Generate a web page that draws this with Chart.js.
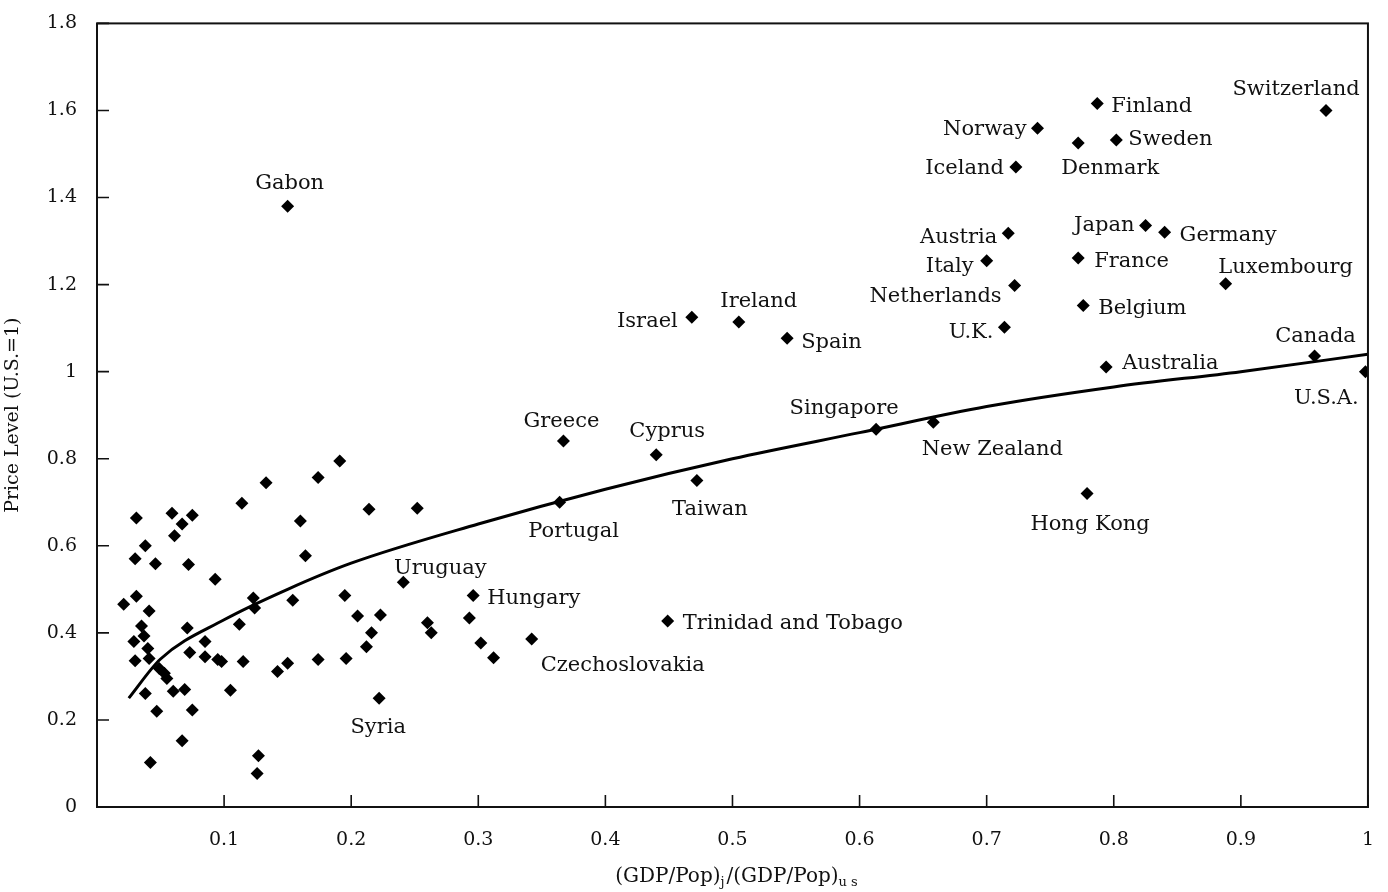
<!DOCTYPE html>
<html>
<head>
<meta charset="utf-8">
<script src="https://cdn.jsdelivr.net/npm/chart.js@4"></script>
<style>
  html, body { margin: 0; padding: 0; background: #fff; }
  #wrap { width: 1388px; height: 892px; }
</style>
</head>
<body>
<div id="wrap"><canvas id="c"></canvas></div>
<script>
// labelled countries: name, x, y
const countryNames = ['Switzerland','Finland','Norway','Denmark','Sweden','Iceland','Japan','Germany','Austria','Italy',
  'France','Netherlands','Luxembourg','Belgium','Israel','Ireland','Spain','U.K.','Canada','Australia','U.S.A.',
  'Gabon','Greece','Cyprus','Singapore','New Zealand','Portugal','Taiwan','Hong Kong','Uruguay','Hungary',
  'Trinidad and Tobago','Czechoslovakia','Syria'];
const countryX = [0.967,0.787,0.740,0.772,0.802,0.723,0.825,0.840,0.717,0.700,
  0.772,0.722,0.888,0.776,0.468,0.505,0.543,0.714,0.958,0.794,0.998,
  0.150,0.367,0.440,0.613,0.658,0.364,0.472,0.779,0.241,0.296,
  0.449,0.342,0.222];
const countryY = [1.600,1.616,1.559,1.525,1.532,1.470,1.336,1.320,1.318,1.255,
  1.261,1.198,1.202,1.152,1.125,1.114,1.077,1.102,1.036,1.011,1.000,
  1.380,0.841,0.809,0.868,0.884,0.700,0.750,0.720,0.516,0.486,
  0.427,0.386,0.250];
// label placement relative to the marker: dx, dy (px), align
const labelPlace = [[-30,-21,'center'],[14,3,'left'],[-11,1,'right'],[32,25,'center'],[12,-1,'left'],[-12,1,'right'],
  [-11,0,'right'],[15,3,'left'],[-11,4,'right'],[-13,6,'right'],[16,4,'left'],[-13,11,'right'],[60,-16,'center'],
  [15,3,'left'],[-14,4,'right'],[20,-20,'center'],[14,4,'left'],[-11,5,'right'],[1,-19,'center'],[16,-3,'left'],
  [-39,27,'center'],[2,-23,'center'],[-2,-19,'center'],[11,-23,'center'],[-32,-21,'center'],[59,27,'center'],
  [14,29,'center'],[13,29,'center'],[3,31,'center'],[37,-14,'center'],[14,3,'left'],[15,2,'left'],[91,27,'center'],[-1,29,'center']];

// unlabelled countries
const otherX = [0.021,0.031,0.030,0.038,0.046,0.031,0.035,0.029,0.037,0.041,0.040,0.030,0.041,0.038,0.042,0.047,0.049,
  0.053,0.055,0.059,0.061,0.067,0.075,0.072,0.071,0.073,0.060,0.069,0.067,0.075,0.085,0.085,0.095,0.098,0.093,
  0.105,0.114,0.112,0.115,0.123,0.124,0.133,0.127,0.126,0.142,0.150,0.154,0.160,0.164,0.174,0.174,0.191,0.195,
  0.196,0.205,0.214,0.212,0.216,0.223,0.252,0.260,0.263,0.293,0.302,0.312];
const otherY = [0.466,0.664,0.570,0.600,0.559,0.484,0.416,0.380,0.393,0.450,0.364,0.336,0.341,0.261,0.102,0.220,0.318,
  0.307,0.295,0.675,0.623,0.650,0.670,0.557,0.411,0.355,0.266,0.270,0.152,0.223,0.380,0.345,0.339,0.334,0.523,
  0.268,0.698,0.420,0.334,0.480,0.457,0.745,0.118,0.077,0.311,0.330,0.475,0.657,0.577,0.757,0.339,0.795,0.486,
  0.341,0.439,0.684,0.368,0.400,0.441,0.686,0.423,0.400,0.434,0.377,0.343];

// fitted curve
const curveX = [0.025,0.05,0.1,0.15,0.2,0.3,0.4,0.5,0.6,0.7,0.8,0.9,1.0];
const curveY = [0.25,0.34,0.43,0.50,0.56,0.65,0.73,0.80,0.86,0.92,0.965,1.00,1.04];

const xTicks = [0.1,0.2,0.3,0.4,0.5,0.6,0.7,0.8,0.9,1];
const yTicks = [0,0.2,0.4,0.6,0.8,1,1.2,1.4,1.6,1.8];

const serif = '"DejaVu Serif", "Liberation Serif", serif';

const toXY = (xs, ys) => xs.map((x, i) => ({x, y: ys[i]}));

const framePlugin = {
  id: 'frame',
  afterDraw(chart) {
    const {ctx, chartArea: a, scales: {x, y}} = chart;
    ctx.save();
    ctx.strokeStyle = '#111';
    ctx.lineWidth = 2;
    ctx.strokeRect(a.left, a.top, a.right - a.left, a.bottom - a.top);
    ctx.lineWidth = 1.6;
    ctx.beginPath();
    xTicks.forEach(v => { const p = x.getPixelForValue(v); ctx.moveTo(p, a.bottom); ctx.lineTo(p, a.bottom - 12); });
    yTicks.forEach(v => { const p = y.getPixelForValue(v); ctx.moveTo(a.left, p); ctx.lineTo(a.left + 12, p); });
    ctx.stroke();

    // country labels
    ctx.fillStyle = '#111';
    ctx.font = '21px ' + serif;
    ctx.textBaseline = 'middle';
    countryNames.forEach((n, i) => {
      const [dx, dy, al] = labelPlace[i];
      ctx.textAlign = al;
      ctx.fillText(n, x.getPixelForValue(countryX[i]) + dx, y.getPixelForValue(countryY[i]) + dy);
    });

    // x title with subscripts
    ctx.textAlign = 'left';
    ctx.textBaseline = 'alphabetic';
    const parts = [['(GDP/Pop)', 0], ['j', 1], ['/(GDP/Pop)', 0], ['u s', 1]];
    const big = '20px ' + serif, small = '13px ' + serif;
    let w = 0;
    parts.forEach(([t, s]) => { ctx.font = s ? small : big; w += ctx.measureText(t).width + (s ? 2 : 0); });
    let cx = (a.left + a.right) / 2 - w / 2 + 5;
    parts.forEach(([t, s]) => {
      ctx.font = s ? small : big;
      ctx.fillText(t, cx, s ? 886 : 882);
      cx += ctx.measureText(t).width + (s ? 2 : 0);
    });
    ctx.restore();
  }
};

new Chart(document.getElementById('c'), {
  type: 'scatter',
  data: {
    datasets: [
      {
        data: toXY(countryX, countryY).concat(toXY(otherX, otherY)),
        pointStyle: 'rectRot', pointRadius: 6.5, pointHoverRadius: 6.5,
        backgroundColor: '#000', borderColor: '#000', borderWidth: 0,
      },
      {
        type: 'line',
        data: toXY(curveX, curveY),
        showLine: true, pointRadius: 0, borderColor: '#000', borderWidth: 3,
        cubicInterpolationMode: 'monotone', fill: false,
      },
    ],
  },
  options: {
    responsive: true,
    maintainAspectRatio: false,
    animation: false,
    layout: { padding: { left: 0, top: -3, right: 16, bottom: 0 } },
    plugins: { legend: { display: false }, tooltip: { enabled: false } },
    scales: {
      x: {
        type: 'linear', min: 0, max: 1,
        afterFit: s => { s.height = 85; },
        afterBuildTicks: s => { s.ticks = [0].concat(xTicks).map(v => ({value: v})); },
        grid: { display: false }, border: { display: false },
        ticks: { color: '#111', font: { family: serif, size: 19 }, padding: 14,
          callback: v => v === 0 ? '' : String(v) },
      },
      y: {
        type: 'linear', min: 0, max: 1.8,
        afterFit: s => { s.width = 97; },
        afterBuildTicks: s => { s.ticks = yTicks.map(v => ({value: v})); },
        grid: { display: false }, border: { display: false },
        ticks: { color: '#111', font: { family: serif, size: 19 }, padding: 12,
          callback: v => String(Math.round(v * 10) / 10) },
        title: { display: true, text: 'Price Level (U.S.=1)', color: '#111',
          font: { family: serif, size: 19 }, padding: 2 },
      },
    },
  },
  plugins: [framePlugin],
});
</script>
</body>
</html>
